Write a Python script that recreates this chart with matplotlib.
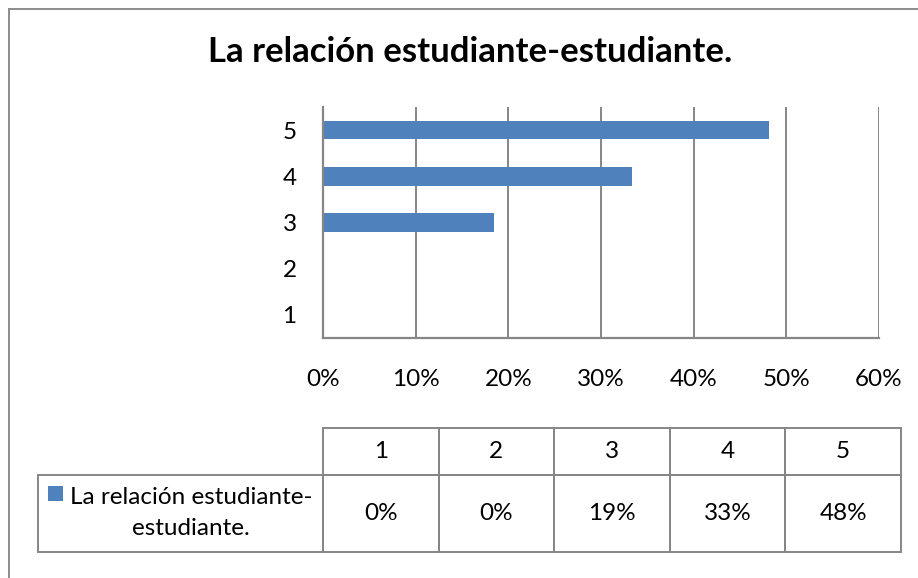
import matplotlib
matplotlib.use("Agg")
import matplotlib.pyplot as plt
from matplotlib.patches import Rectangle
from matplotlib.lines import Line2D
from matplotlib.ticker import PercentFormatter

categories = ["1", "2", "3", "4", "5"]
values = [0.0, 0.0, 0.185, 0.333, 0.481]
table_labels = ["0%", "0%", "19%", "33%", "48%"]
series_label = "La relación estudiante-\nestudiante."
title = "La relación estudiante-estudiante."
xticks = [0, 0.1, 0.2, 0.3, 0.4, 0.5, 0.6]

BAR = "#4F81BD"
GRID = "#868686"
FONT = ["Lato", "DejaVu Sans"]
plt.rcParams['font.family'] = FONT
FS = 17.5

W, H = 918, 578
fig = plt.figure(figsize=(W / 100, H / 100), dpi=100)

def fx(px):
    return px / W

def fy(py):
    return 1 - py / H

# outer border (left and top)
fig.add_artist(Line2D([fx(8.5), fx(8.5)], [fy(8.5), 0], color="#8C8C8C", lw=1.4, transform=fig.transFigure))
fig.add_artist(Line2D([fx(8.5), 1], [fy(8.5), fy(8.5)], color="#8C8C8C", lw=1.4, transform=fig.transFigure))

fig.text(fx(470), fy(52), title, ha="center", va="center", fontsize=25, fontweight="bold", color="#000000")

ax = fig.add_axes([fx(323), fy(338), fx(879) - fx(323), fy(107) - fy(338)])
ypos = list(range(1, len(categories) + 1))
ax.barh(ypos, values, height=0.4, color=BAR, zorder=3)
ax.set_xlim(0, 0.6)
ax.set_ylim(0.5, 5.5)
ax.set_xticks(xticks)
ax.xaxis.set_major_formatter(PercentFormatter(1.0, decimals=0))
ax.set_yticks(ypos)
ax.set_yticklabels(categories)
ax.grid(axis="x", color=GRID, lw=1.4, zorder=0)
ax.tick_params(axis="both", length=0, labelsize=FS, colors="#000000")
ax.tick_params(axis="x", pad=22)
ax.tick_params(axis="y", pad=19)
for s in ["top", "right"]:
    ax.spines[s].set_visible(False)
for s in ["left", "bottom"]:
    ax.spines[s].set_color(GRID)
    ax.spines[s].set_linewidth(1.6)
    ax.spines[s].set_zorder(4)

# data table drawn in pixel coordinates of a full-figure overlay axes
tax = fig.add_axes([0, 0, 1, 1])
tax.set_axis_off()
tax.set_xlim(0, W)
tax.set_ylim(H, 0)

label_x0, col_x0, col_x1 = 38, 323, 901
hdr_y0, row_y0, row_y1 = 428, 475, 552
col_w = (col_x1 - col_x0) / len(categories)

def cell(x0, y0, x1, y1):
    tax.add_patch(Rectangle((x0, y0), x1 - x0, y1 - y0, facecolor="none",
                            edgecolor=GRID, lw=1.4))

for j, (c, v) in enumerate(zip(categories, table_labels)):
    x0 = col_x0 + j * col_w
    cell(x0, hdr_y0, x0 + col_w, row_y0)
    cell(x0, row_y0, x0 + col_w, row_y1)
    tax.text(x0 + col_w / 2, (hdr_y0 + row_y0) / 2, c, ha="center", va="center", fontsize=FS)
    tax.text(x0 + col_w / 2, (row_y0 + row_y1) / 2, v, ha="center", va="center", fontsize=FS)

cell(label_x0, row_y0, col_x0, row_y1)
tax.add_patch(Rectangle((48, 486), 15, 15, facecolor=BAR, edgecolor="none"))
tax.text(191, 513, series_label, ha="center", va="center", fontsize=FS, linespacing=1.6)

fig.savefig("out.png", dpi=100)
